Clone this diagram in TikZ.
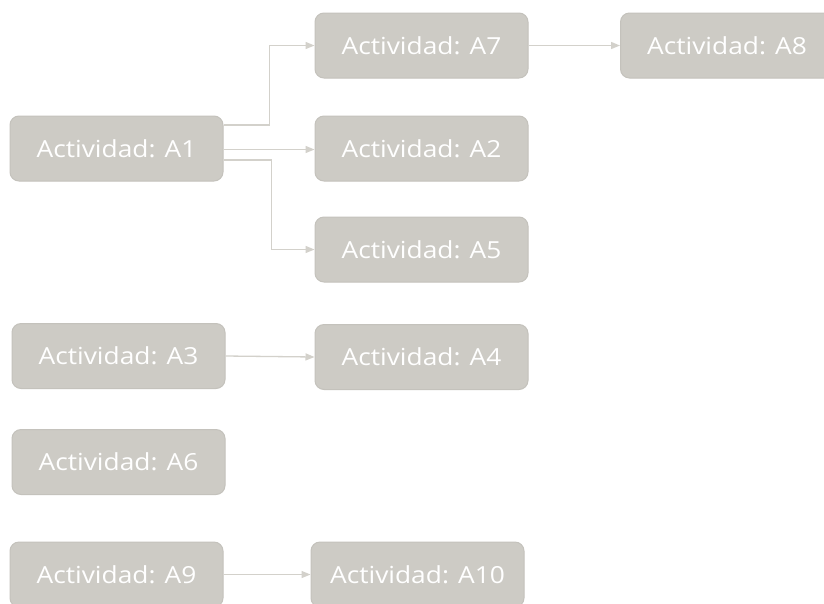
\documentclass[tikz,border=0pt]{standalone}
\usepackage{fontspec}
\setmainfont[FakeStretch=1.12]{Open Sans}
\usetikzlibrary{arrows.meta}
\definecolor{boxfill}{HTML}{CDCBC5}
\definecolor{boxline}{HTML}{C4C2BC}
\definecolor{linkline}{HTML}{D3D1CB}
\tikzset{
  act/.style={draw=boxline, line width=1pt, fill=boxfill, rounded corners=9pt,
    minimum width=213pt, minimum height=65pt, inner sep=0pt,
    text=white, font=\fontsize{23.5}{26}\selectfont},
  link/.style={draw=linkline, line width=1.3pt,
    -{Triangle[length=9pt,width=7pt]}}
}
\begin{document}
\begin{tikzpicture}[x=1pt,y=-1pt]
  \useasboundingbox (0,0) rectangle (824,603);
  \clip (0,0) rectangle (824,603);
  \fill[white] (0,0) rectangle (824,603);

  \node[act] (a1)  at (116.5,148.5) {Actividad: A1};
  \node[act] (a7)  at (421.5,45.5)  {Actividad: A7};
  \node[act] (a8)  at (727,45.5)    {Actividad: A8};
  \node[act] (a2)  at (421.5,148.5) {Actividad: A2};
  \node[act] (a5)  at (421.5,249.5) {Actividad: A5};
  \node[act] (a3)  at (118.5,356)   {Actividad: A3};
  \node[act] (a4)  at (421.5,357)   {Actividad: A4};
  \node[act] (a6)  at (118.5,462)   {Actividad: A6};
  \node[act] (a9)  at (116.5,574.5) {Actividad: A9};
  \node[act] (a10) at (417.5,574.5) {Actividad: A10};

  \draw[link] ([yshift=23.5pt]a1.east) -- ++(46,0) |- (a7.west);
  \draw[link] ([yshift=-1pt]a1.east) -- ([yshift=-1pt]a2.west);
  \draw[link] ([yshift=-11.5pt]a1.east) -- ++(48,0) |- (a5.west);
  \draw[link] (a7) -- (a8);
  \draw[link] (a3.east) -- (a4.west);
  \draw[link] (a9) -- (a10);
\end{tikzpicture}
\end{document}
